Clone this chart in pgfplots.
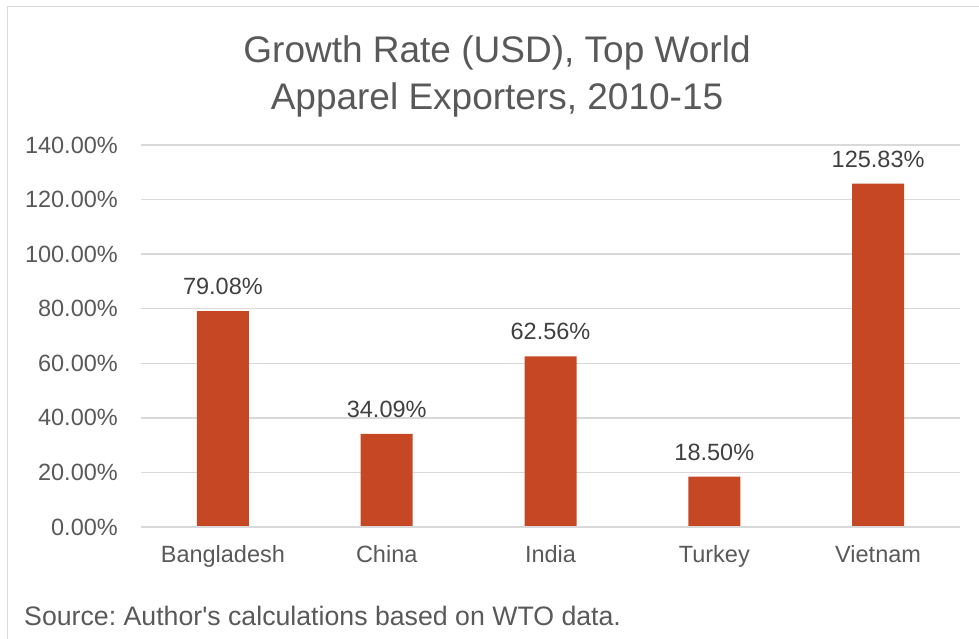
\documentclass[border=0pt]{standalone}
\usepackage{pgfplots}
\pgfplotsset{compat=1.18}
\usepackage{fontspec}
\setmainfont{Liberation Sans}[Ligatures=TeXOff]
\definecolor{barc}{RGB}{197,71,36}
\definecolor{txt}{RGB}{89,89,89}
\definecolor{dtxt}{RGB}{64,64,64}
\definecolor{gridc}{RGB}{217,217,217}
\frenchspacing
\begin{document}
\begin{tikzpicture}
\useasboundingbox (0,0) rectangle (979bp,639bp);
\draw[gridc, line width=1.5bp] (7.5bp,0) -- (7.5bp,632.5bp) -- (979bp,632.5bp);
\node[anchor=base, text=txt, font=\fontsize{37bp}{47bp}\selectfont, inner sep=0pt] at (497bp,576bp) {Growth Rate (USD), Top World};
\node[anchor=base, text=txt, font=\fontsize{37bp}{47bp}\selectfont, inner sep=0pt] at (497bp,529bp) {Apparel Exporters, 2010-15};
\node[anchor=base west, text=txt, font=\fontsize{26.7bp}{30bp}\selectfont, inner sep=0pt] at (24bp,14bp) {Source: Author's calculations based on WTO data.};
\begin{axis}[
  at={(141bp,112bp)}, anchor=south west,
  scale only axis, width=819bp, height=382bp,
  xmin=-0.5, xmax=4.5, ymin=0, ymax=140,
  axis line style={draw=none},
  /pgf/number format/assume math mode=true,
  ybar, bar width=52bp,
  xtick={0,1,2,3,4},
  xticklabels={Bangladesh,China,India,Turkey,Vietnam},
  ytick={0,20,40,60,80,100,120,140},
  yticklabel={\pgfmathprintnumber[fixed,fixed zerofill,precision=2]{\tick}\%},
  xmajorgrids=false,
  ymajorgrids=true,
  grid style={draw=gridc, line width=1.3bp},
  major tick length=0pt,
  xtick style={draw=none},
  ytick style={draw=none},
  tick label style={text=txt, font=\fontsize{23.5bp}{28bp}\selectfont, inner sep=0pt},
  yticklabel style={anchor=east},
  xticklabel style={anchor=north},
  yticklabel shift={23bp},
  xticklabel shift={18bp},
  nodes near coords={\pgfmathprintnumber[fixed,fixed zerofill,precision=2]{\pgfplotspointmeta}\%},
  every node near coord/.append style={text=dtxt, font=\fontsize{23.5bp}{28bp}\selectfont, inner sep=0pt, anchor=south, yshift=16bp},
  clip=false,
]
\addplot[fill=barc, draw=none] coordinates {(0,79.08) (1,34.09) (2,62.56) (3,18.50) (4,125.83)};
\draw[gridc, line width=1.3bp] (axis cs:-0.5,0) -- (axis cs:4.5,0);
\end{axis}
\end{tikzpicture}
\end{document}
